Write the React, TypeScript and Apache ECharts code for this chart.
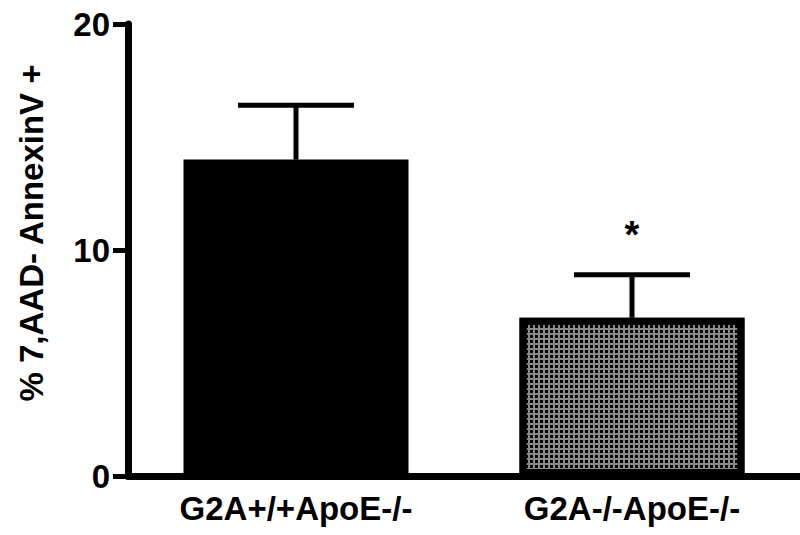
import React, { useEffect, useRef } from "react";
import * as echarts from "echarts";

const categories = ["G2A+/+ApoE-/-", "G2A-/-ApoE-/-"];
const means = [14.0, 7.0];
const sems = [2.4, 1.9];
const significance = ["", "*"];
const yMin = 0;
const yMax = 20;
const yInterval = 10;
const yTitle = "% 7,AAD- AnnexinV +";

const FONT = '"Liberation Sans", Arial, Helvetica, sans-serif';

export default function App() {
  const ref = useRef<HTMLDivElement>(null);

  useEffect(() => {
    if (!ref.current) return;
    const chart = echarts.init(ref.current, null, { renderer: "svg" });

    const barData = means.map((v, i) =>
      i === 0
        ? { value: v, itemStyle: { color: "#000000" } }
        : {
            value: v,
            itemStyle: {
              color: "#8a8a8a",
              decal: {
                symbol: "rect",
                symbolSize: 1,
                color: "#000000",
                dashArrayX: [3, 2],
                dashArrayY: [3, 2],
                rotation: 0,
              },
            },
          }
    );

    const errData = means.map((m, i) => [i, m, sems[i]]);

    chart.setOption({
      animation: false,
      backgroundColor: "#ffffff",
      grid: { left: 128, top: 24, width: 678, height: 452 },
      xAxis: {
        type: "category",
        data: categories,
        axisLine: { lineStyle: { color: "#000", width: 7 } },
        axisTick: { alignWithLabel: true, length: 12, lineStyle: { color: "#000", width: 5 } },
        axisLabel: { color: "#000", fontSize: 33, fontWeight: "bold", fontFamily: FONT, margin: 16 },
        splitLine: { show: false },
      },
      yAxis: {
        type: "value",
        min: yMin,
        max: yMax,
        interval: yInterval,
        axisLine: { show: true, lineStyle: { color: "#000", width: 7 } },
        axisTick: { show: true, length: 15, lineStyle: { color: "#000", width: 5 } },
        axisLabel: { color: "#000", fontSize: 33, fontWeight: "bold", fontFamily: FONT, margin: 18 },
        splitLine: { show: false },
      },
      graphic: [
        {
          type: "text",
          x: 31,
          y: 233,
          rotation: Math.PI / 2,
          style: {
            text: yTitle,
            font: `bold 33px ${FONT}`,
            fill: "#000",
            align: "center",
            verticalAlign: "middle",
          },
        },
      ],
      series: [
        {
          type: "bar",
          data: barData,
          barWidth: 225,
          itemStyle: { borderColor: "#000", borderWidth: 7 },
          z: 1,
        },
        {
          type: "custom",
          data: errData,
          encode: { x: 0, y: 1 },
          z: 3,
          renderItem: (params: any, api: any) => {
            const i = api.value(0);
            const m = api.value(1);
            const e = api.value(2);
            const base = api.coord([i, m]);
            const top = api.coord([i, m + e]);
            const half = 58;
            const children: any[] = [
              {
                type: "line",
                shape: { x1: base[0], y1: base[1], x2: top[0], y2: top[1] },
                style: { stroke: "#000", lineWidth: 5 },
              },
              {
                type: "line",
                shape: { x1: top[0] - half, y1: top[1], x2: top[0] + half, y2: top[1] },
                style: { stroke: "#000", lineWidth: 5 },
              },
            ];
            const sig = significance[params.dataIndex];
            if (sig) {
              children.push({
                type: "text",
                x: top[0],
                y: top[1] - 40,
                style: {
                  text: sig,
                  font: `bold 38px ${FONT}`,
                  fill: "#000",
                  align: "center",
                  verticalAlign: "middle",
                },
              });
            }
            return { type: "group", children };
          },
        },
      ],
    });

    return () => chart.dispose();
  }, []);

  return (
    <div
      ref={ref}
      style={{ position: "fixed", left: 0, top: 0, width: 800, height: 535, background: "#fff" }}
    />
  );
}
